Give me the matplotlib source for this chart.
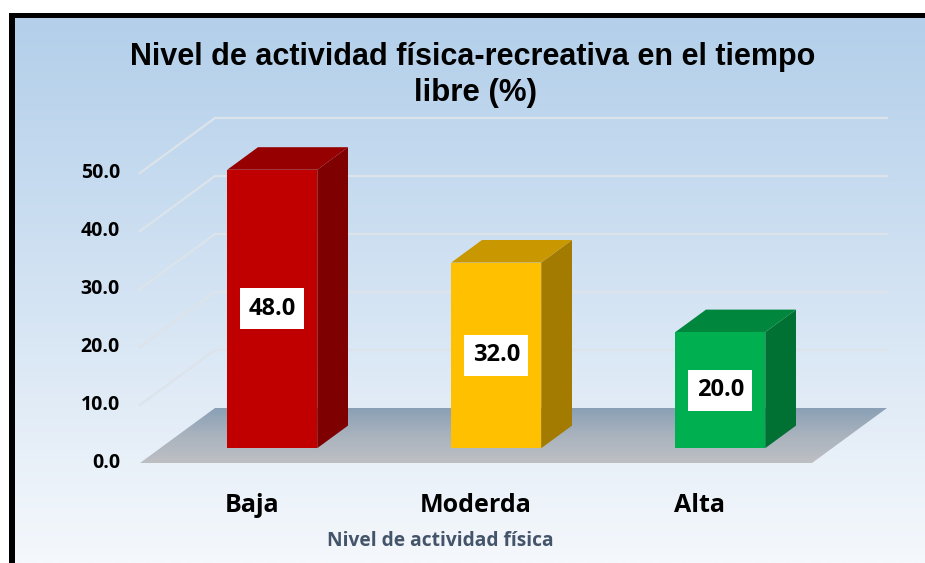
import numpy as np
import matplotlib
matplotlib.use('Agg')
import matplotlib.pyplot as plt
from matplotlib.patches import Polygon, Rectangle
from matplotlib.colors import LinearSegmentedColormap

# ---------------- data ----------------
categories = ['Baja', 'Moderda', 'Alta']
values = [48.0, 32.0, 20.0]
yticks = [0, 10, 20, 30, 40, 50]
title_lines = ['Nivel de actividad física-recreativa en el tiempo', 'libre (%)']
xlabel = 'Nivel de actividad física'

front_colors = ['#C00000', '#FFC000', '#00B050']
top_colors = ['#960000', '#C99700', '#00873D']
side_colors = ['#7F0000', '#A37B00', '#007033']

# ---------------- layout ----------------
W, H = 925, 563
fig = plt.figure(figsize=(W / 100, H / 100), dpi=100)
TXT = 'Open Sans'

# background frame (pixel coords)
bg = fig.add_axes([0, 0, 1, 1])
bg.set_xlim(0, W)
bg.set_ylim(H, 0)
bg.axis('off')
grad = np.linspace(0, 1, 256)[:, None]
cmap_bg = LinearSegmentedColormap.from_list('bg', ['#B3CFEA', '#D3E3F3', '#F5F8FC'])
bg.imshow(grad, extent=[15, W, H, 18], cmap=cmap_bg, aspect='auto', interpolation='bilinear')
bg.add_patch(Rectangle((9, 13), 6, H, color='black', lw=0))
bg.add_patch(Rectangle((9, 13), W, 5, color='black', lw=0))

# main axes: x in category units, y in value units (front plane)
px_x = 224.0      # pixels per category unit
px_y = 5.8        # pixels per value unit
x0_pix, y0_pix = 140.0, 463.0
ax = fig.add_axes([0, 0, 1, 1])
ax.set_xlim(-0.5 - x0_pix / px_x, -0.5 + (W - x0_pix) / px_x)
ax.set_ylim(-(H - y0_pix) / px_y, y0_pix / px_y)
ax.axis('off')
ax.patch.set_alpha(0)

DX = 75 / px_x    # depth vector
DY = 55 / px_y
xl, xr = -0.5, len(categories) - 0.5

# gridlines: back wall + side wall
grid_c = '#DCE3EA'
for v in yticks[1:]:
    ax.plot([xl + DX, xr + DX], [v + DY, v + DY], color=grid_c, lw=1.6, zorder=1)
    ax.plot([xl, xl + DX], [v, v + DY], color=grid_c, lw=1.6, zorder=1)

# floor with gradient
floor = Polygon([(xl, 0), (xr, 0), (xr + DX, DY), (xl + DX, DY)], closed=True,
                facecolor='none', edgecolor='none', zorder=2)
ax.add_patch(floor)
cmap_fl = LinearSegmentedColormap.from_list('fl', ['#BEBFC3', '#A9B3BE', '#8AA0B5'])
fimg = ax.imshow(np.linspace(0, 1, 128)[:, None], extent=[xl, xr + DX, 0, DY],
                 origin='lower', cmap=cmap_fl, aspect='auto', zorder=2,
                 interpolation='bilinear')
fimg.set_clip_path(floor)

# bars
bw = 90 / px_x
d0 = 0.27
dd = 0.41
for i, (v, fc, tc, sc) in enumerate(zip(values, front_colors, top_colors, side_colors)):
    left = i - bw / 2 + d0 * DX
    bot = d0 * DY
    ox, oy = dd * DX, dd * DY
    ax.add_patch(Polygon([(left + bw, bot), (left + bw + ox, bot + oy),
                          (left + bw + ox, bot + v + oy), (left + bw, bot + v)],
                         closed=True, facecolor=sc, edgecolor='none', zorder=3))
    ax.add_patch(Polygon([(left, bot + v), (left + bw, bot + v),
                          (left + bw + ox, bot + v + oy), (left + ox, bot + v + oy)],
                         closed=True, facecolor=tc, edgecolor='none', zorder=3))
    ax.add_patch(Rectangle((left, bot), bw, v, facecolor=fc, edgecolor='none', zorder=4))
    ax.text(left + bw / 2, bot + v / 2, f'{v:.1f}', ha='center', va='center',
            fontsize=17, fontweight='bold', family=TXT, color='black', zorder=5,
            bbox=dict(boxstyle='square,pad=0.36', facecolor='white', edgecolor='none'))

# y tick labels
for v in yticks:
    ax.text(xl - 20 / px_x, v, f'{v:.1f}', ha='right', va='center',
            fontsize=14, fontweight='bold', family=TXT, color='black')

# category labels
for i, c in enumerate(categories):
    ax.text(i, -42 / px_y, c, ha='center', va='center', fontsize=18,
            fontweight='bold', family=TXT, color='black')

ax.text(xl + (440 - x0_pix) / px_x, -78 / px_y, xlabel, ha='center', va='center',
        fontsize=13.8, fontweight='bold', family=TXT, color='#44546A')

# title
fig.text(473 / W, 1 - 57 / H, title_lines[0], ha='center', va='center',
         fontsize=22, fontweight='bold', family='Liberation Sans', color='black')
fig.text(476 / W, 1 - 93 / H, title_lines[1], ha='center', va='center',
         fontsize=22.5, fontweight='bold', family='Liberation Sans', color='black')

fig.savefig('out.png', dpi=100)
